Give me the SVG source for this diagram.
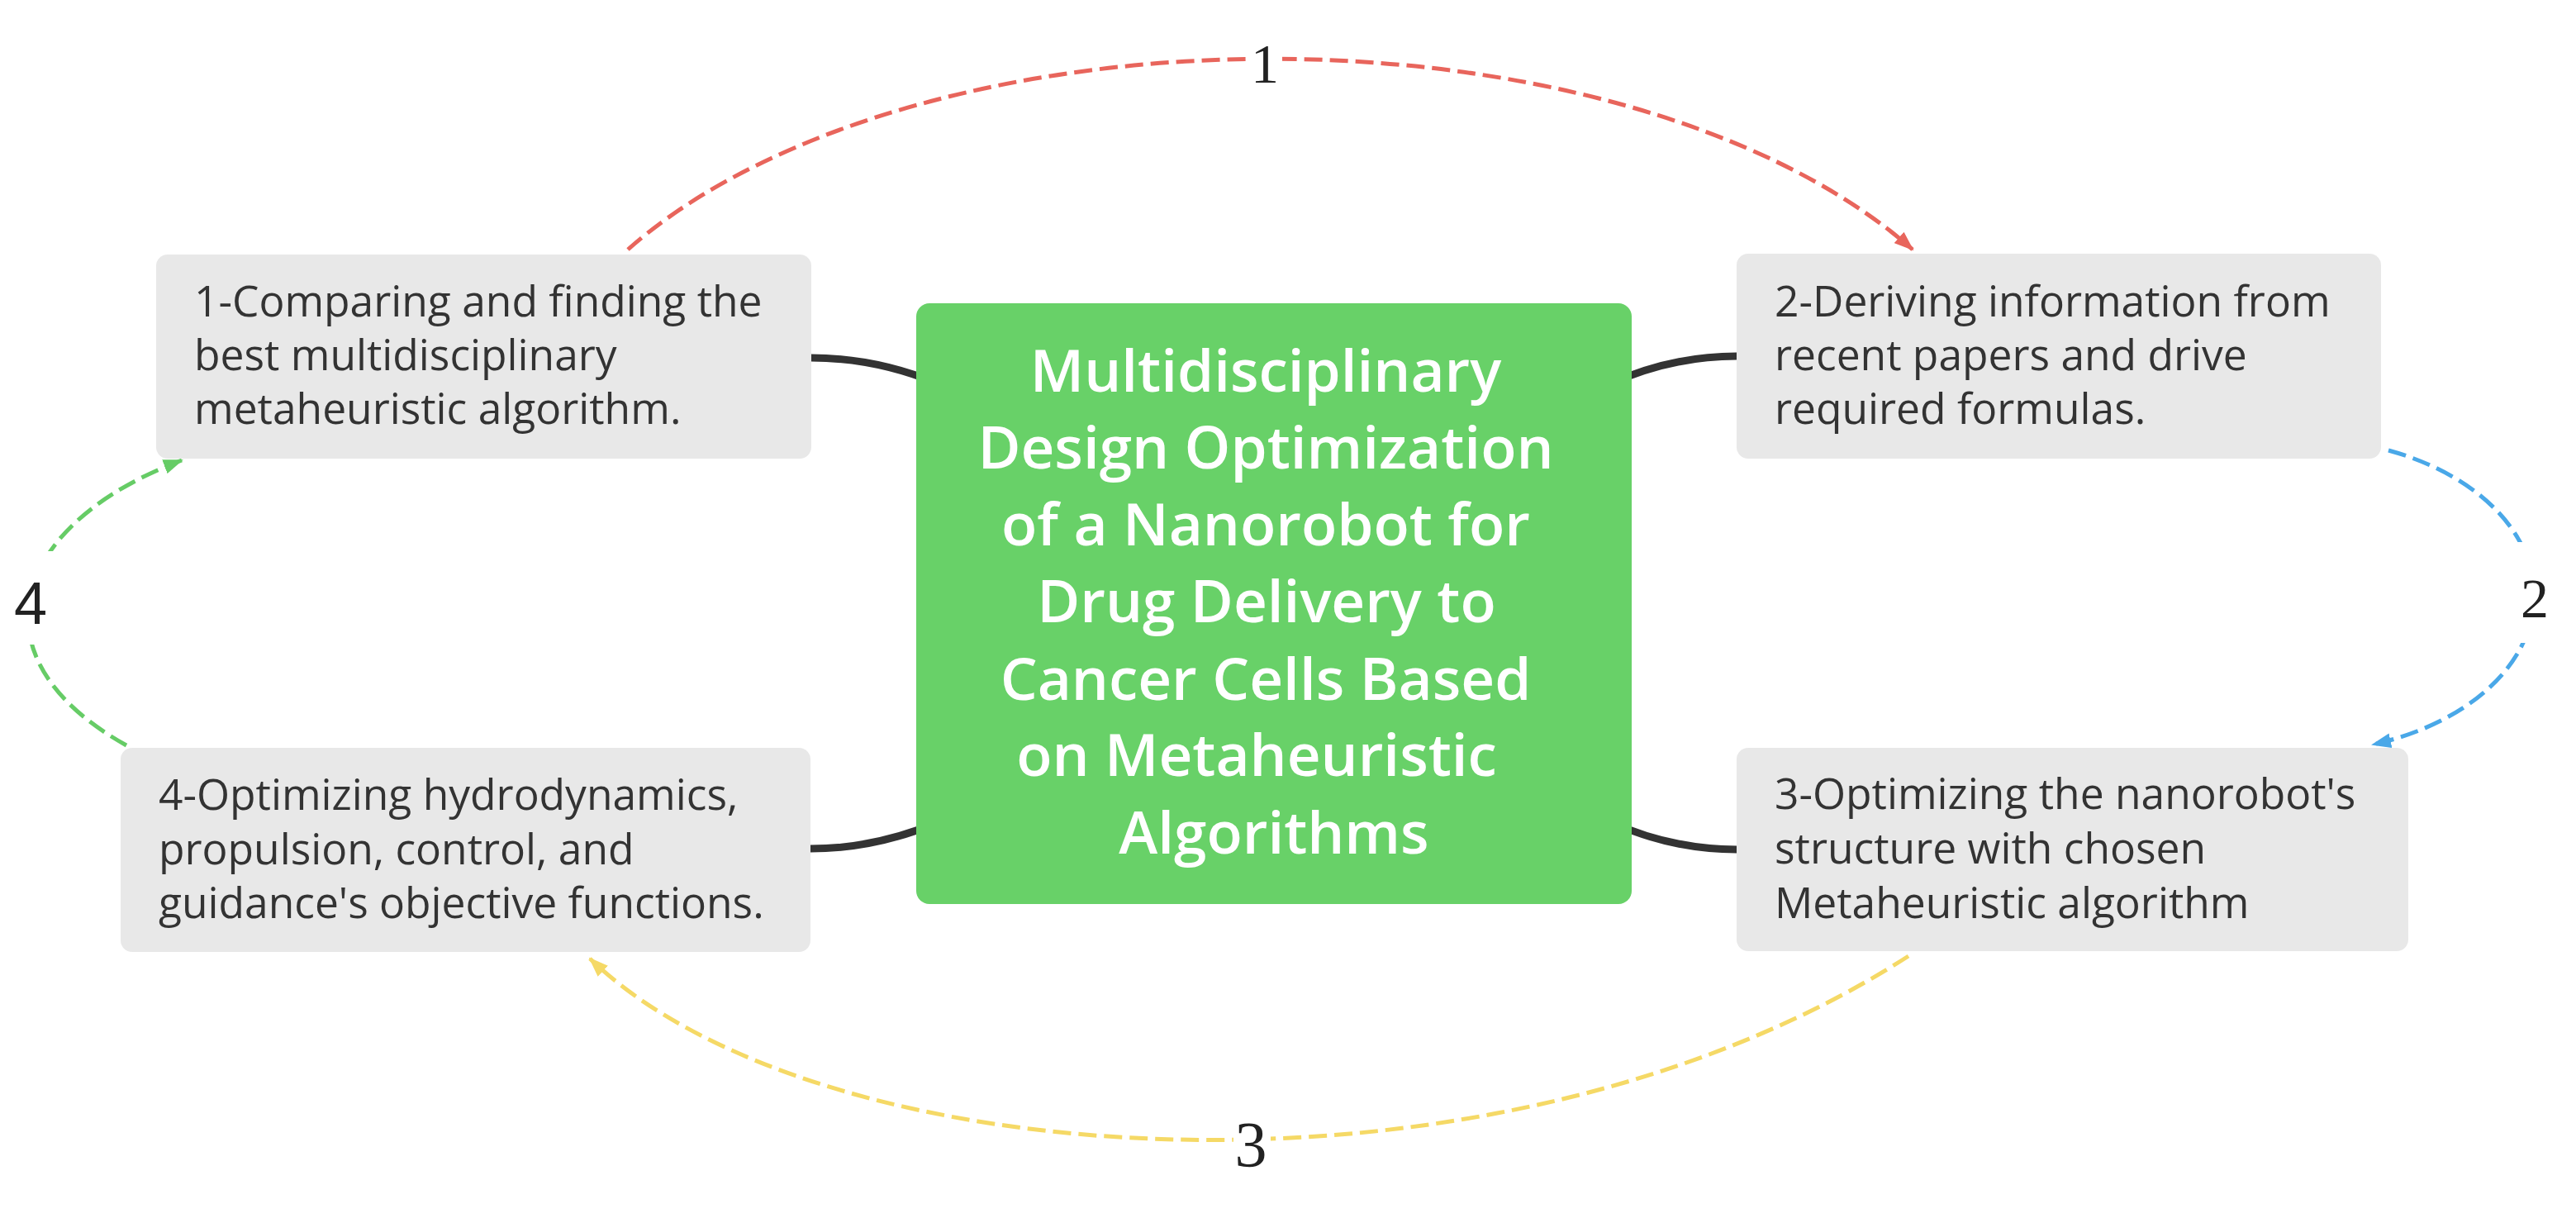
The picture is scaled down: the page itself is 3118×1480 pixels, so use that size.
<svg xmlns="http://www.w3.org/2000/svg" width="3118" height="1480" viewBox="0 0 3118 1480">
  <style>
    .box { fill: #E8E8E8; }
    .txt { font-family: "Open Sans", "Liberation Sans", sans-serif; font-size: 51.5px; fill: #333333; }
    .ctxt { font-family: "Open Sans", "Liberation Sans", sans-serif; font-size: 71px; font-weight: 600; fill: #FFFFFF; text-anchor: middle; }
    .branch { fill: none; stroke: #333333; stroke-width: 9; stroke-linecap: butt; }
    .rel { fill: none; stroke-width: 5; stroke-dasharray: 22 9; }
    .lbl { font-family: "Liberation Serif", "Times New Roman", serif; fill: #222222; text-anchor: middle; }
    .lbg { fill: #FFFFFF; }
  </style>
  <defs>
    <marker id="arR" markerUnits="userSpaceOnUse" markerWidth="24" markerHeight="18" refX="22" refY="9" orient="auto" viewBox="0 0 24 18">
      <path d="M0,0 L24,9 L0,18 z" fill="#E8655C"/>
    </marker>
    <marker id="arB" markerUnits="userSpaceOnUse" markerWidth="24" markerHeight="18" refX="22" refY="9" orient="auto" viewBox="0 0 24 18">
      <path d="M0,0 L24,9 L0,18 z" fill="#4AA8E8"/>
    </marker>
    <marker id="arY" markerUnits="userSpaceOnUse" markerWidth="24" markerHeight="18" refX="22" refY="9" orient="auto" viewBox="0 0 24 18">
      <path d="M0,0 L24,9 L0,18 z" fill="#F5D966"/>
    </marker>
    <marker id="arG" markerUnits="userSpaceOnUse" markerWidth="24" markerHeight="18" refX="22" refY="9" orient="auto" viewBox="0 0 24 18">
      <path d="M0,0 L24,9 L0,18 z" fill="#66CC66"/>
    </marker>
  </defs>
  <rect width="3118" height="1480" fill="#FFFFFF"/>

  <g id="connectors">
    <path class="branch" d="M 982 433 Q 1060 433 1135 464"/>
    <path class="branch" d="M 981 1027 Q 1060 1027 1135 995"/>
    <path class="branch" d="M 2102 431 Q 2024 431 1950 464"/>
    <path class="branch" d="M 2102 1028 Q 2024 1028 1950 995"/>

    <path class="rel" stroke="#E8655C" marker-end="url(#arR)" d="M 760 302 A 900 465 0 0 1 2315 302"/>
    <path class="rel" stroke="#4AA8E8" marker-end="url(#arB)" d="M 2891 545 A 285 190 0 0 1 2872 901"/>
    <path class="rel" stroke="#F5D966" marker-end="url(#arY)" d="M 2310 1157 C 1805 1481 988 1424 714 1160"/>
    <path class="rel" stroke="#66CC66" marker-end="url(#arG)" d="M 153 902 C -39 795 14 634 220 557"/>

    <rect class="lbg" x="1512" y="40" width="40" height="80"/>
    <text class="lbl" x="1531" y="100" font-size="68">1</text>
    <rect class="lbg" x="3038" y="656" width="70" height="122"/>
    <text class="lbl" x="3068" y="747" font-size="68">2</text>
    <rect class="lbg" x="1493" y="1340" width="45" height="90"/>
    <text class="lbl" x="1514" y="1411" font-size="78">3</text>
    <rect class="lbg" x="5" y="667" width="70" height="113"/>
    <text x="37" y="755" font-size="72" fill="#222222" text-anchor="middle" font-family="'Liberation Sans', Arial, sans-serif">4</text>
  </g>

  <g id="node-center">
    <rect x="1109" y="367" width="866" height="727" rx="16" fill="#68D168"/>
    <text class="ctxt" x="1532" y="474">Multidisciplinary</text>
    <text class="ctxt" x="1532" y="567">Design Optimization</text>
    <text class="ctxt" x="1532" y="660">of a Nanorobot for</text>
    <text class="ctxt" x="1533" y="753">Drug Delivery to</text>
    <text class="ctxt" x="1532" y="847">Cancer Cells Based</text>
    <text class="ctxt" x="1521" y="939">on Metaheuristic</text>
    <text class="ctxt" x="1542" y="1033">Algorithms</text>
  </g>

  <g id="node-1">
    <rect class="box" x="189" y="308" width="793" height="247" rx="14"/>
    <text class="txt" x="235" y="383">1-Comparing and finding the</text>
    <text class="txt" x="235" y="448">best multidisciplinary</text>
    <text class="txt" x="235" y="513">metaheuristic algorithm.</text>
  </g>

  <g id="node-2">
    <rect class="box" x="2102" y="307" width="780" height="248" rx="14"/>
    <text class="txt" x="2148" y="383">2-Deriving information from</text>
    <text class="txt" x="2148" y="448">recent papers and drive</text>
    <text class="txt" x="2148" y="513">required formulas.</text>
  </g>

  <g id="node-3">
    <rect class="box" x="2102" y="905" width="813" height="246" rx="14"/>
    <text class="txt" x="2148" y="979">3-Optimizing the nanorobot's</text>
    <text class="txt" x="2148" y="1045">structure with chosen</text>
    <text class="txt" x="2148" y="1111">Metaheuristic algorithm</text>
  </g>

  <g id="node-4">
    <rect class="box" x="146" y="905" width="835" height="247" rx="14"/>
    <text class="txt" x="192" y="980">4-Optimizing hydrodynamics,</text>
    <text class="txt" x="192" y="1046">propulsion, control, and</text>
    <text class="txt" x="192" y="1111">guidance's objective functions.</text>
  </g>
</svg>
